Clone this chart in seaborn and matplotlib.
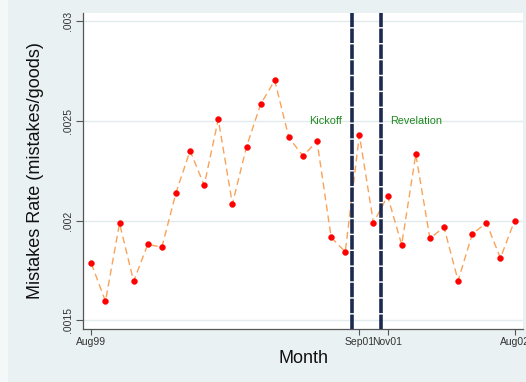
import matplotlib
matplotlib.use("Agg")
import matplotlib.pyplot as plt
import matplotlib.patches as mpatches
import seaborn as sns
import pandas as pd

# ---- data ----
month_index = list(range(31))
mistake_rate = [0.001786, 0.001596, 0.001987, 0.001696, 0.001882, 0.001867, 0.002140,
                0.002351, 0.002178, 0.002509, 0.002084, 0.002371, 0.002584, 0.002704,
                0.002418, 0.002325, 0.002398, 0.001917, 0.001844, 0.002430, 0.001990,
                0.002124, 0.001880, 0.002333, 0.001912, 0.001967, 0.001699, 0.001933,
                0.001990, 0.001813, 0.002000]
x_tick_positions = [0, 19, 21, 30]
x_tick_labels = ["Aug99", "Sep01", "Nov01", "Aug02"]
y_ticks = [0.0015, 0.002, 0.0025, 0.003]
y_tick_labels = [".0015", ".002", ".0025", ".003"]
event_positions = [18.5, 20.5]
event_labels = ["Kickoff", "Revelation"]

df = pd.DataFrame({"month": month_index, "rate": mistake_rate})

sns.set_style("white")
plt.rcParams["font.family"] = ["Liberation Sans", "DejaVu Sans"]

bg = "#EAF1F3"
fig = plt.figure(figsize=(5.26, 3.82), dpi=100, facecolor=bg)
fig.patches.append(mpatches.Rectangle((0, 0), 8 / 526, 1, transform=fig.transFigure,
                                      facecolor="#F4F8F9", edgecolor="none", zorder=0))
ax = fig.add_axes([0.1578, 0.1387, 0.8365, 0.8273])
ax.set_facecolor("white")

sns.lineplot(data=df, x="month", y="rate", ax=ax, color="#F9A35A",
             linewidth=1.0, linestyle=(0, (5, 3)), zorder=2)
sns.scatterplot(data=df, x="month", y="rate", ax=ax, color="#FF0000",
                s=18, edgecolor="#FF0000", linewidth=0.3, zorder=3)

for xv in event_positions:
    ax.axvline(xv, color="#1B2A4E", linewidth=2.6, linestyle=(0, (4, 0.4)), zorder=4)

ax.text(event_positions[0] - 0.75, 0.0025, event_labels[0], color="#1E8A1E",
        fontsize=7.8, ha="right", va="center", zorder=5)
ax.text(event_positions[1] + 0.7, 0.0025, event_labels[1], color="#1E8A1E",
        fontsize=7.8, ha="left", va="center", zorder=5)

ax.set_xlim(-0.59, 30.6)
ax.set_ylim(0.001457, 0.003042)
ax.set_yticks(y_ticks)
ax.set_yticklabels(y_tick_labels, rotation=90, va="center", fontsize=7.5, color="#333333")
ax.set_xticks(x_tick_positions)
ax.set_xticklabels(x_tick_labels, fontsize=7.5, color="#333333")
ax.tick_params(axis="y", which="both", left=True, length=5, width=0.8, color="#555555", pad=2)
ax.tick_params(axis="x", which="both", bottom=True, length=4, width=0.8, color="#555555", pad=2)

ax.yaxis.grid(True, color="#E1EBEE", linewidth=1.0)
ax.xaxis.grid(False)
ax.set_axisbelow(True)

for side in ["top", "right"]:
    ax.spines[side].set_visible(False)
for side in ["left", "bottom"]:
    ax.spines[side].set_color("#555555")
    ax.spines[side].set_linewidth(0.9)

ax.set_xlabel("Month", fontsize=13, color="#111111", labelpad=2)
ax.set_ylabel("Mistakes Rate (mistakes/goods)", fontsize=13, color="#111111", labelpad=14)

fig.savefig("out.png", dpi=100, facecolor=bg)
